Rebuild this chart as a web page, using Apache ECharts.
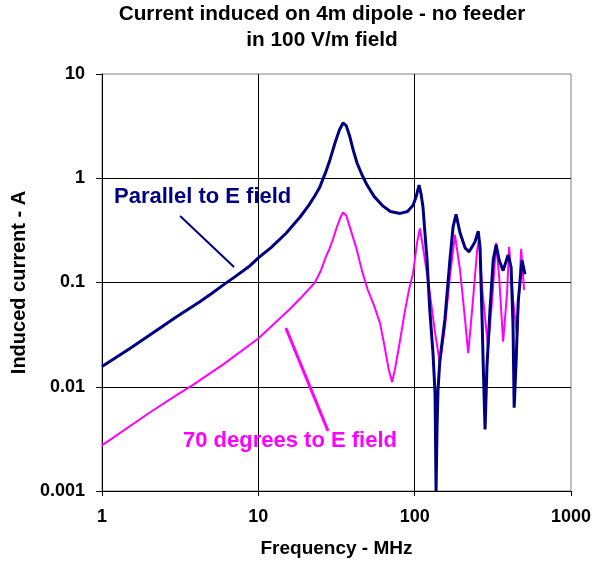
<!DOCTYPE html>
<html>
<head>
<meta charset="utf-8">
<script src="https://cdn.jsdelivr.net/npm/echarts@6/dist/echarts.min.js"></script>
<style>
  html, body { margin: 0; padding: 0; background: #fff; }
  #chart { width: 602px; height: 568px; }
</style>
</head>
<body>
<div id="chart"></div>
<script>
// 数据：频率 (MHz) / 感应电流 (A)
const parallelData = [
  [1,0.0156],[1.5,0.0232],[2,0.031],[3,0.047],[4.2,0.065],[5,0.078],[6.1,0.097],[7,0.112],
  [8.85,0.145],[10,0.172],[12,0.215],[15,0.295],[18.5,0.425],[21,0.55],[23,0.68],[24.7,0.82],
  [27,1.15],[28.7,1.5],[31,2.2],[33,2.9],[34.8,3.39],[36.5,3.2],[38.5,2.5],[40.5,1.85],[42.8,1.4],
  [46,1.08],[49.6,0.86],[55,0.67],[62.8,0.54],[70,0.48],[80.7,0.46],[90,0.48],[97.7,0.55],
  [102,0.66],[106.7,0.86],[110,0.7],[113,0.53],[120,0.164],[125,0.054],[131,0.021],[135,0.0087],
  [137,0.001],[139,0.004],[141,0.0093],[145,0.018],[156,0.044],[168,0.164],[176,0.34],[184,0.45],
  [195,0.3],[210,0.215],[223,0.197],[243,0.245],[255,0.31],[262,0.22],[270,0.044],[274,0.018],
  [282,0.0039],[290,0.0155],[303,0.054],[318,0.164],[332,0.23],[347,0.164],[368,0.13],[396,0.184],
  [414,0.14],[426,0.037],[433,0.0063],[446,0.018],[459,0.064],[486,0.164],[508,0.12]
];
const deg70Data = [
  [1,0.00274],[2,0.0056],[3,0.0083],[3.78,0.0103],[6,0.0165],[10,0.029],[15.8,0.055],[19,0.073],
  [21,0.086],[23,0.1],[25,0.128],[27,0.175],[28.5,0.21],[30,0.26],[32,0.35],[33.5,0.42],[34.8,0.47],
  [36.5,0.44],[38.5,0.34],[42.5,0.21],[46,0.13],[50,0.086],[55,0.06],[60,0.041],[64,0.025],
  [68,0.015],[71.7,0.0111],[75,0.015],[80,0.026],[86.8,0.054],[92,0.085],[97.7,0.123],[103.5,0.24],
  [108,0.33],[113,0.22],[125,0.079],[135,0.033],[145,0.0169],[156,0.037],[168,0.113],[181,0.286],
  [195,0.132],[210,0.044],[220,0.021],[233,0.054],[251,0.204],[258,0.26],[270,0.09],[286,0.037],
  [295,0.024],[313,0.068],[332,0.24],[347,0.113],[368,0.027],[390,0.079],[402,0.22],[426,0.068],
  [452,0.031],[465,0.079],[480,0.21],[501,0.085]
];
// 标注引线（数据坐标）
const parallelPointer = [[3.16,0.434],[6.99,0.141]];
const deg70Pointer = [[15.0,0.0366],[27.9,0.00377]];
const xTickLabels = ['1','10','100','1000'];
const yTickLabels = ['0.001','0.01','0.1','1','10'];

const FONT = '"Liberation Sans", Arial, sans-serif';
const chart = echarts.init(document.getElementById('chart'));

chart.setOption({
  animation: false,
  backgroundColor: '#fff',
  grid: { left: 102, right: 31, top: 74, bottom: 77, show: true, borderColor: '#808080', borderWidth: 1 },
  xAxis: {
    type: 'log', logBase: 10, min: 1, max: 1000,
    name: 'Frequency - MHz', nameLocation: 'middle', nameGap: 48,
    nameTextStyle: { fontFamily: FONT, fontWeight: 'bold', fontSize: 19, color: '#000' },
    axisLine: { show: true, lineStyle: { color: '#000', width: 1 } },
    axisTick: { show: true, length: 5, lineStyle: { color: '#000' } },
    axisLabel: { fontFamily: FONT, fontWeight: 'bold', fontSize: 18, color: '#000', margin: 17,
      formatter: v => xTickLabels[Math.round(Math.log10(v))] },
    splitLine: { show: true, showMinLine: false, showMaxLine: false, lineStyle: { color: '#000', width: 1 } }
  },
  yAxis: {
    type: 'log', logBase: 10, min: 0.001, max: 10,
    name: 'Induced current - A', nameLocation: 'middle', nameGap: 72, nameRotate: 90,
    nameTextStyle: { fontFamily: FONT, fontWeight: 'bold', fontSize: 20, color: '#000' },
    axisLine: { show: true, lineStyle: { color: '#000', width: 1 } },
    axisTick: { show: true, length: 6, lineStyle: { color: '#000' } },
    axisLabel: { fontFamily: FONT, fontWeight: 'bold', fontSize: 18, color: '#000', margin: 17,
      formatter: v => yTickLabels[Math.round(Math.log10(v)) + 3] },
    splitLine: { show: true, showMinLine: false, showMaxLine: false, lineStyle: { color: '#000', width: 1 } }
  },
  series: [
    {
      name: '70 degrees to E field', type: 'line', data: deg70Data, showSymbol: false,
      lineStyle: { color: '#ff00ff', width: 2 }, z: 2,
      markLine: { silent: true, symbol: 'none', label: { show: false },
        lineStyle: { color: '#ff00ff', width: 3, type: 'solid' },
        data: [[{ coord: deg70Pointer[0] }, { coord: deg70Pointer[1] }]] }
    },
    {
      name: 'Parallel to E field', type: 'line', data: parallelData, showSymbol: false,
      lineStyle: { color: '#000080', width: 3 }, z: 3,
      markLine: { silent: true, symbol: 'none', label: { show: false },
        lineStyle: { color: '#000080', width: 2, type: 'solid' },
        data: [[{ coord: parallelPointer[0] }, { coord: parallelPointer[1] }]] }
    }
  ],
  graphic: [
    { type: 'text', x: 322, y: 14, style: { text: 'Current induced on 4m dipole - no feeder',
      font: 'bold 20.8px ' + FONT, fill: '#000', textAlign: 'center', textVerticalAlign: 'middle' } },
    { type: 'text', x: 322, y: 40, style: { text: 'in 100 V/m field',
      font: 'bold 20.8px ' + FONT, fill: '#000', textAlign: 'center', textVerticalAlign: 'middle' } },
    { type: 'text', x: 114, y: 197, z: 10, style: { text: 'Parallel to E field',
      font: 'bold 22px ' + FONT, fill: '#000080', textAlign: 'left', textVerticalAlign: 'middle' } },
    { type: 'text', x: 183, y: 441, z: 10, style: { text: '70 degrees to E field',
      font: 'bold 22px ' + FONT, fill: '#ff00ff', textAlign: 'left', textVerticalAlign: 'middle' } }
  ]
});
window.addEventListener('resize', () => chart.resize());
</script>
</body>
</html>
